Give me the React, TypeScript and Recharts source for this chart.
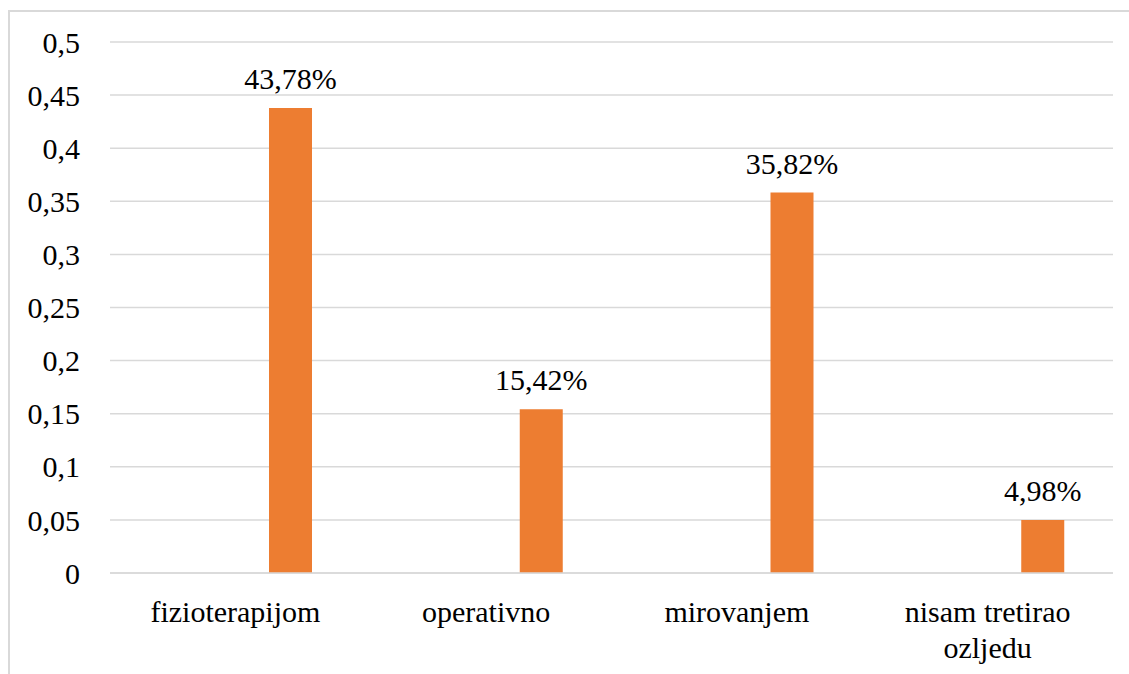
import { useLayoutEffect, useRef } from "react";
import { BarChart, Bar, XAxis, YAxis, CartesianGrid, LabelList } from "recharts";

const categories = ["fizioterapijom", "operativno", "mirovanjem", "nisam tretirao ozljedu"];
const shares = [0.4378, 0.1542, 0.3582, 0.0498];
const yTicks = [0, 0.05, 0.1, 0.15, 0.2, 0.25, 0.3, 0.35, 0.4, 0.45, 0.5];

const data = categories.map((name, i) => ({ name, blank: null, value: shares[i] }));

const FONT = "Liberation Serif";
const SIZE = 30;
const comma = (v: number) => String(v).replace(".", ",");
const pct = (v: number) => (v * 100).toFixed(2).replace(".", ",") + "%";

// greedy word wrap measured on a canvas
const wrap = (label: string, maxWidth: number) => {
  const ctx = document.createElement("canvas").getContext("2d");
  if (!ctx) return [label];
  ctx.font = `${SIZE}px "${FONT}"`;
  const lines: string[] = [];
  let cur = "";
  for (const w of label.split(" ")) {
    const next = cur ? cur + " " + w : w;
    if (cur && ctx.measureText(next).width > maxWidth) {
      lines.push(cur);
      cur = w;
    } else cur = next;
  }
  if (cur) lines.push(cur);
  return lines;
};

const CategoryTick = (props: any) => {
  const { x, y, payload } = props;
  const lines = wrap(String(payload.value), 235);
  return (
    <text x={x} y={y} textAnchor="middle" fill="#000" fontFamily={FONT} fontSize={SIZE}>
      {lines.map((l, i) => (
        <tspan key={i} x={x} dy={i === 0 ? "0.71em" : 36}>
          {l}
        </tspan>
      ))}
    </text>
  );
};

const YTick = (props: any) => {
  const { x, y, payload } = props;
  return (
    <text x={x} y={y} dy="0.355em" textAnchor="end" fill="#000" fontFamily={FONT} fontSize={SIZE}>
      {comma(payload.value)}
    </text>
  );
};

const ValueLabel = (props: any) => {
  const { x, y, width, value } = props;
  return (
    <text x={x + width / 2} y={y - 19} textAnchor="middle" fill="#000" fontFamily={FONT} fontSize={SIZE}>
      {pct(Number(value))}
    </text>
  );
};

const css = `
#root div.chart svg.recharts-surface text, #root div.chart svg.recharts-surface tspan {
  font-family: "${FONT}", serif !important;
  font-size: ${SIZE}px !important;
}
`;

export default function App() {
  const ref = useRef<HTMLDivElement>(null);
  useLayoutEffect(() => {
    const fix = () =>
      ref.current?.querySelectorAll("text").forEach((t) => {
        (t as SVGTextElement).style.setProperty("font-family", `"${FONT}", serif`, "important");
        (t as SVGTextElement).style.setProperty("font-size", `${SIZE}px`, "important");
      });
    fix();
    const id = setTimeout(fix, 50);
    return () => clearTimeout(id);
  });
  return (
    <div ref={ref} className="chart" style={{ position: "absolute", left: 0, top: 0, width: 1129, height: 674, overflow: "hidden", background: "#fff", fontFamily: FONT }}>
      <style>{css}</style>
      <div
        style={{
          position: "absolute",
          left: 8,
          top: 10,
          width: 1150,
          height: 700,
          border: "2px solid #d9d9d9",
        }}
      />
      <BarChart
        width={1129}
        height={674}
        data={data}
        margin={{ top: 42, right: 16, bottom: 11, left: 0 }}
        barSize={43}
        barGap={67}
        style={{ position: "absolute", left: 0, top: 0 }}
      >
        <CartesianGrid vertical={false} stroke="#d9d9d9" strokeWidth={1.5} />
        <XAxis
          dataKey="name"
          height={90}
          axisLine={{ stroke: "#d9d9d9", strokeWidth: 1.5 }}
          tickLine={false}
          tickSize={0}
          tickMargin={28}
          interval={0}
          tick={<CategoryTick />}
        />
        <YAxis
          width={110}
          domain={[0, 0.5]}
          ticks={yTicks}
          axisLine={false}
          tickLine={false}
          tickSize={0}
          tickMargin={30}
          tick={<YTick />}
        />
        <Bar dataKey="blank" fill="#4472C4" isAnimationActive={false} />
        <Bar dataKey="value" fill="#ED7D31" isAnimationActive={false}>
          <LabelList dataKey="value" content={<ValueLabel />} />
        </Bar>
      </BarChart>
    </div>
  );
}
